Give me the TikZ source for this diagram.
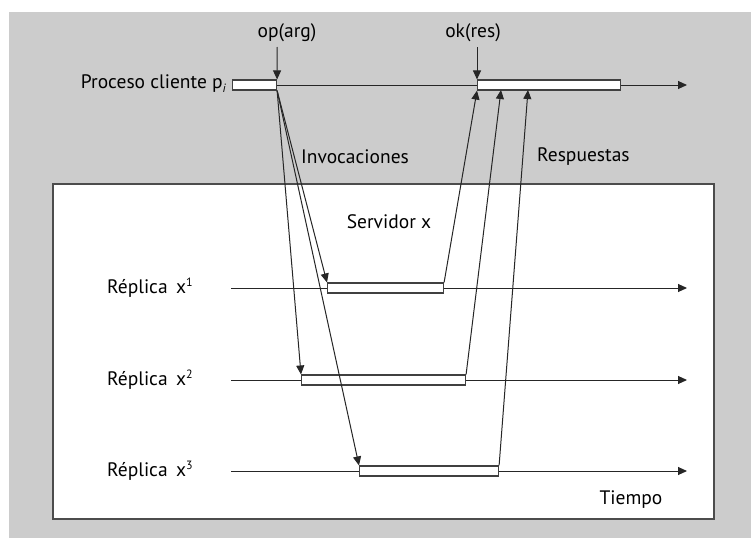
\documentclass[tikz,border=0pt]{standalone}
\usepackage{fontspec}
\setmainfont{PT Sans}
\usetikzlibrary{arrows.meta}
\newcommand{\subi}{\raisebox{-0.35ex}{\fontsize{12}{13}\selectfont\itshape i}}
\newcommand{\supn}[1]{\raisebox{0.75ex}{\fontsize{12}{13}\selectfont #1}}
\begin{document}
\begin{tikzpicture}[x=1pt,y=-1pt,
  tip/.style={-{Triangle[length=9pt,width=8pt]}},
  line/.style={draw=black!85,line width=1pt},
  bar/.style={draw=black!75,fill=white,line width=1.1pt,minimum height=10pt,inner sep=0pt,anchor=west},
  lbl/.style={font=\fontsize{19.5}{22}\selectfont,inner sep=0pt}]
\useasboundingbox (0,0) rectangle (751,538);
% backdrop and server frame
\fill[gray!40] (9,12) rectangle (751,538);
\draw[draw=black!70,fill=white,line width=1.3pt] (53,184) rectangle (714,519);

% client process
\node[lbl,anchor=east] (pl) at (226,84) {Proceso cliente p\subi};
\node[bar,minimum width=44pt] (cb) at (232,85) {};
\coordinate (ce) at (687,85);
\draw[line,tip] (cb.east) -- (ce);
\node[bar,minimum width=143pt] (rb) at (477,85) {};

\node[lbl] (op) at (287,33) {op(arg)};
\coordinate (ops) at (277,47);
\draw[line,tip] (ops) -- (cb.north east);
\node[lbl] (ok) at (473,33) {ok(res)};
\coordinate (oks) at (477,47);
\draw[line,tip] (oks) -- (rb.north west);

\node[lbl,anchor=west] (inv) at (301,157) {Invocaciones};
\node[lbl,anchor=west] (res) at (537,157) {Respuestas};
\node[lbl] (srv) at (389,222) {Servidor x};

% replicas
\node[lbl,anchor=west] (l1) at (107,288) {Réplica\, x\supn{1}};
\node[lbl,anchor=west] (l2) at (107,380) {Réplica\, x\supn{2}};
\node[lbl,anchor=west] (l3) at (107,471) {Réplica\, x\supn{3}};
\coordinate (s1) at (231,288); \coordinate (e1) at (687,288);
\coordinate (s2) at (231,380); \coordinate (e2) at (687,380);
\coordinate (s3) at (231,471); \coordinate (e3) at (687,471);
\draw[line,tip] (s1) -- (e1);
\draw[line,tip] (s2) -- (e2);
\draw[line,tip] (s3) -- (e3);
\node[bar,minimum width=116pt] (r1) at (327,288) {};
\node[bar,minimum width=164pt] (r2) at (301,380) {};
\node[bar,minimum width=139pt] (r3) at (359,471) {};

% invocation messages
\draw[line,tip] (cb.south east) -- (r1.north west);
\draw[line,tip] (cb.south east) -- (r2.north west);
\draw[line,tip] (cb.south east) -- (r3.north west);

% reply messages
\coordinate (t2) at (501,90);
\coordinate (t3) at (528,90);
\draw[line,tip] (r1.north east) -- (rb.south west);
\draw[line,tip] (r2.north east) -- (t2);
\draw[line,tip] (r3.north east) -- (t3);

\node[lbl] (tm) at (631,500) {Tiempo};
\end{tikzpicture}
\end{document}
